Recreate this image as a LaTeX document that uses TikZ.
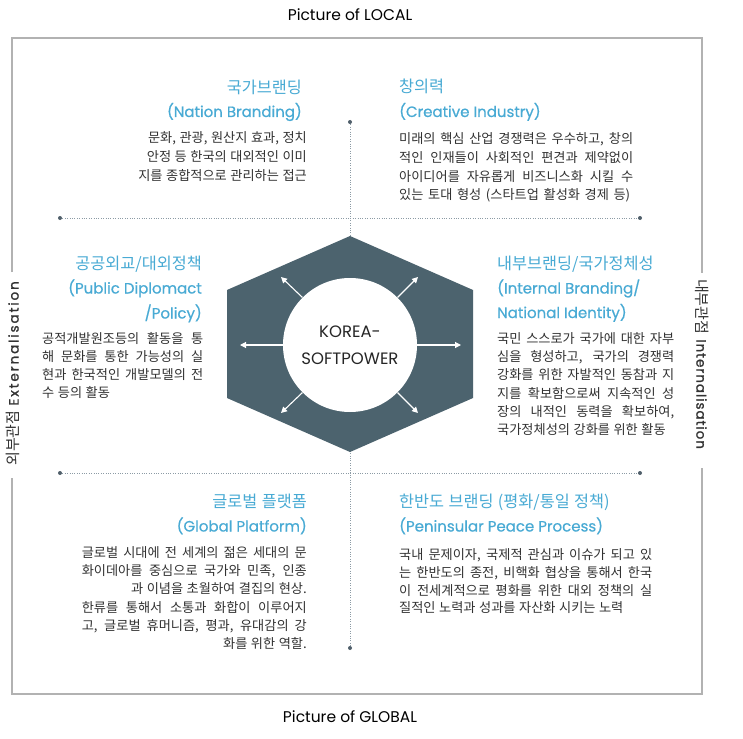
\documentclass[tikz,border=0pt]{standalone}
\usepackage{fontspec}
\setmainfont{Poppins}
\newfontfamily\kr[WordSpace=1.2]{Noto Sans CJK KR}
\newfontfamily\popsbL[FakeBold=1.2,LetterSpace=14]{Poppins}
\newfontfamily\popsbR[FakeBold=1.2,LetterSpace=7]{Poppins}
\newfontfamily\pophd[FakeBold=0.5]{Poppins}
\usetikzlibrary{arrows.meta}
\definecolor{hexcol}{RGB}{76,99,110}
\definecolor{headcol}{RGB}{72,170,212}
\definecolor{bodycol}{RGB}{50,50,50}
\definecolor{framecol}{RGB}{178,178,178}
\definecolor{dotcol}{RGB}{140,155,165}
\definecolor{dotend}{RGB}{80,95,107}
\newcommand\jline[2]{\makebox[#1pt][s]{#2}}
\begin{document}
\begin{tikzpicture}[x=1pt,y=-1pt,
  bodyE/.style={font=\kr\fontsize{13.2}{18}\selectfont, text=bodycol, inner sep=0pt, anchor=base east},
  bodyW/.style={font=\kr\fontsize{13.2}{18}\selectfont, text=bodycol, inner sep=0pt, anchor=base west},
  hkE/.style={font=\kr\fontsize{16.3}{18}\selectfont, text=headcol, inner sep=0pt, anchor=base east},
  hkW/.style={font=\kr\fontsize{16.3}{18}\selectfont, text=headcol, inner sep=0pt, anchor=base west},
  heE/.style={font=\pophd\fontsize{15}{17}\selectfont, text=headcol, inner sep=0pt, anchor=base east},
  heW/.style={font=\pophd\fontsize{15}{17}\selectfont, text=headcol, inner sep=0pt, anchor=base west},
  frame/.style={draw=framecol, line width=1.2pt},
  dotline/.style={draw=dotcol, line width=0.8pt, dash pattern=on 0.8pt off 1.6pt},
  dotendpt/.style={fill=dotend},
  arr/.style={draw=white, line width=1.1pt, -{Triangle[length=6pt,width=6pt]}},
  side/.style={inner sep=0pt, text=bodycol},
  title/.style={font=\fontsize{15.5}{18}\selectfont, text=black, inner sep=0pt, anchor=base}
]
\useasboundingbox[fill=white] (0,0) rectangle (743,738);

% frame with gaps for the side labels
\draw[frame] (12,272) -- (12,38) -- (702,38) -- (702,273);
\draw[frame] (702,468) -- (702,694) -- (12,694) -- (12,478);
\node[side, rotate=90] (lside) at (13,373.5) {{\kr\fontsize{15}{17}\selectfont 외부관점}\hspace{5pt}{\popsbL\fontsize{13.5}{17}\selectfont Externalisation}};
\node[side, rotate=-90] (rside) at (702,364) {{\kr\fontsize{15}{17}\selectfont 내부관점}\hspace{5pt}{\popsbR\fontsize{13.5}{17}\selectfont Internalisation}};

% titles
\node[title] (local) at (350,20.5) {Picture of LOCAL};
\node[title] (global) at (350,722) {Picture of GLOBAL};

% dotted axes
\coordinate (h1a) at (60,218); \coordinate (h1b) at (640,218);
\coordinate (h2a) at (60,473); \coordinate (h2b) at (640,473);
\coordinate (v1a) at (350,122); \coordinate (v1b) at (350,648);
\draw[dotline] (h1a) -- (h1b);
\draw[dotline] (h2a) -- (h2b);
\draw[dotline] (v1a) -- (v1b);
\foreach \p in {h1a,h1b,h2a,h2b,v1a,v1b} \fill[dotendpt] (\p) circle (2);

% hexagon
\fill[hexcol] (350,236) -- (473,290) -- (473,398) -- (350,452) -- (227,398) -- (227,290) -- cycle;
\node[circle, fill=white, minimum size=134pt, inner sep=0pt, align=center,
      font=\fontsize{16.5}{27}\selectfont, text=black!85] (c) at (350,345) {KOREA-\\SOFTPOWER};
\coordinate (aL) at (240,345); \coordinate (aR) at (461,345);
\coordinate (aUL) at (281,277); \coordinate (aUR) at (418,277);
\coordinate (aDL) at (281,413); \coordinate (aDR) at (418,413);
\draw[arr] (c.180) -- (aL);
\draw[arr] (c.0) -- (aR);
\draw[arr] (c.135) -- (aUL);
\draw[arr] (c.45) -- (aUR);
\draw[arr] (c.225) -- (aDL);
\draw[arr] (c.315) -- (aDR);

% top-left
\node[hkE] (tlk) at (302,94) {국가브랜딩};
\node[heE] (tle) at (302,117) {(Nation Branding)};
\node[bodyE] (tl1) at (307,142.5) {문화, 관광, 원산지 효과, 정치};
\node[bodyE] (tl2) at (307,161.5) {안정 등 한국의 대외적인 이미};
\node[bodyE] (tl3) at (307,180.5) {지를 종합적으로 관리하는 접근};

% top-right
\node[hkW] (trk) at (399,92.5) {창의력};
\node[heW] (tre) at (399,117) {(Creative Industry)};
\node[bodyW] (tr1) at (399,143) {\jline{234}{미래의 핵심 산업 경쟁력은 우수하고, 창의}};
\node[bodyW] (tr2) at (399,162) {\jline{234}{적인 인재들이 사회적인 편견과 제약없이}};
\node[bodyW] (tr3) at (399,181) {\jline{234}{아이디어를 자유롭게 비즈니스화 시킬 수}};
\node[bodyW] (tr4) at (399,199.5) {\jline{231}{있는 토대 형성 (스타트업 활성화 경제 등)}};

% middle-left
\node[hkE] (mlk) at (202,269) {공공외교/대외정책};
\node[heE] (mle1) at (202,293.5) {(Public Diplomact};
\node[heE] (mle2) at (202,318.5) {/Policy)};
\node[bodyW] (ml1) at (42,343) {\jline{161}{공적개발원조등의 활동을 통}};
\node[bodyW] (ml2) at (42,361) {\jline{161}{해 문화를 통한 가능성의 실}};
\node[bodyW] (ml3) at (42,379) {\jline{161}{현과 한국적인 개발모델의 전}};
\node[bodyW] (ml4) at (42,397) {수 등의 활동};

% middle-right
\node[hkW] (mrk) at (497,269) {내부브랜딩/국가정체성};
\node[heW] (mre1) at (497,293.5) {(Internal Branding/};
\node[heW] (mre2) at (497,318) {National Identity)};
\node[bodyW] (mr1) at (497,343) {\jline{177}{국민 스스로가 국가에 대한 자부}};
\node[bodyW] (mr2) at (497,361.3) {\jline{177}{심을 형성하고, 국가의 경쟁력}};
\node[bodyW] (mr3) at (497,379.6) {\jline{177}{강화를 위한 자발적인 동참과 지}};
\node[bodyW] (mr4) at (497,398) {\jline{177}{지를 확보함으로써 지속적인 성}};
\node[bodyW] (mr5) at (497,416.3) {\jline{177}{장의 내적인 동력을 확보하여,}};
\node[bodyW] (mr6) at (497,434.6) {국가정체성의 강화를 위한 활동};

% bottom-left
\node[hkE] (blk) at (307,507) {글로벌 플랫폼};
\node[heE] (ble) at (307,531.5) {(Global Platform)};
\node[bodyE] (bl1) at (307,557) {\jline{225}{글로벌 시대에 전 세계의 젊은 세대의 문}};
\node[bodyE] (bl2) at (307,575.3) {\jline{225}{화이데아를 중심으로 국가와 민족, 인종}};
\node[bodyE] (bl3) at (307,593.6) {과 이념을 초월하여 결집의 현상.};
\node[bodyE] (bl4) at (307,612) {\jline{225}{한류를 통해서 소통과 화합이 이루어지}};
\node[bodyE] (bl5) at (307,630.3) {\jline{225}{고, 글로벌 휴머니즘, 평과, 유대감의 강}};
\node[bodyE] (bl6) at (307,648.6) {화를 위한 역할.};

% bottom-right
\node[hkW] (brk) at (399,507) {한반도 브랜딩 (평화/통일 정책)};
\node[heW] (bre) at (399,531.5) {(Peninsular Peace Process)};
\node[bodyW] (br1) at (399,559) {\jline{253}{국내 문제이자, 국제적 관심과 이슈가 되고 있}};
\node[bodyW] (br2) at (399,577) {\jline{253}{는 한반도의 종전, 비핵화 협상을 통해서 한국}};
\node[bodyW] (br3) at (399,595) {\jline{253}{이 전세계적으로 평화를 위한 대외 정책의 실}};
\node[bodyW] (br4) at (399,612.7) {질적인 노력과 성과를 자산화 시키는 노력};
\end{tikzpicture}
\end{document}
